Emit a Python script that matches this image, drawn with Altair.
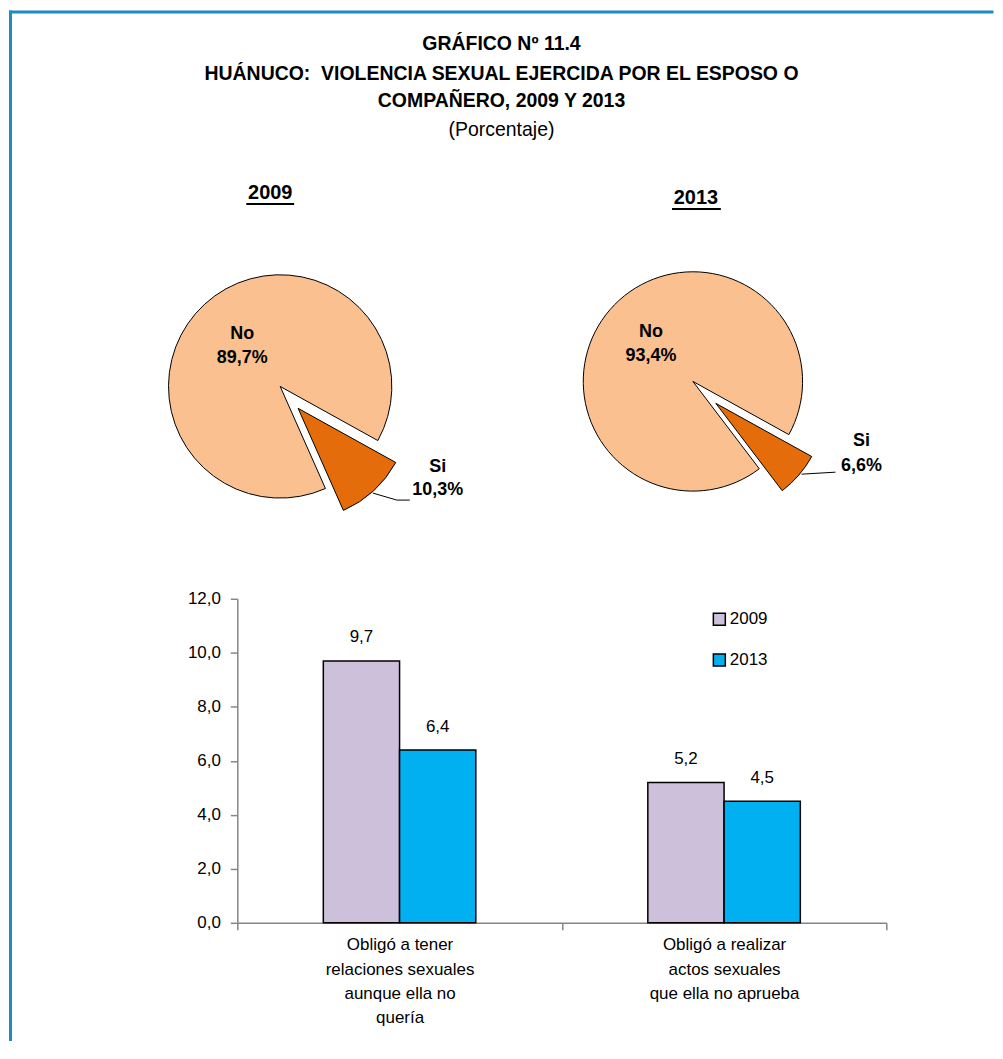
import math
import pandas as pd
import altair as alt

# ---------------- data ----------------
title_lines = ["GRÁFICO Nº 11.4",
               "HUÁNUCO:\u00a0 VIOLENCIA SEXUAL EJERCIDA POR EL ESPOSO O",
               "COMPAÑERO, 2009 Y 2013",
               "(Porcentaje)"]
years = ["2009", "2013"]
pie_labels = ["Si", "No"]
pie_2009 = [10.3, 89.7]
pie_2013 = [6.6, 93.4]
categories = ["Obligó a tener|relaciones sexuales|aunque ella no|quería",
              "Obligó a realizar|actos sexuales|que ella no aprueba"]
values_2009 = [9.7, 5.2]
values_2013 = [6.4, 4.5]
y_ticks = [0, 2, 4, 6, 8, 10, 12]

# ---------------- styles ----------------
SANS = "Liberation Sans"
BORDER = "#1b8cc4"
AXIS_GRAY = "#868686"
pie_colors = ["#E46C0A", "#FAC090"]
bar_colors = ["#CCC0DA", "#00B0F0"]

one = pd.DataFrame({"k": [0]})


def text_at(s, x, y, size, bold=False, font=SANS):
    return alt.Chart(one).mark_text(
        font=font, fontSize=size, fontWeight="bold" if bold else "normal",
        color="black", align="center", baseline="middle"
    ).encode(x=alt.value(x), y=alt.value(y), text=alt.value(s))


def rule_at(x, x2, y, y2, color="black", w=1.0, cap="butt"):
    return alt.Chart(one).mark_rule(color=color, strokeWidth=w, strokeCap=cap).encode(
        x=alt.value(x), x2=alt.value(x2), y=alt.value(y), y2=alt.value(y2))


# ---------------- border + title ----------------
layers = []
layers.append(rule_at(-227.5, -227.5, -588.5, 442, BORDER, 3, "square"))
layers.append(rule_at(-227.5, 757, -588.5, -588.5, BORDER, 3, "square"))

title_y = [-556, -526, -499, -470]
for i, (line, ty) in enumerate(zip(title_lines, title_y)):
    layers.append(text_at(line, 265, ty, 19.5, bold=(i < 3)))

# ---------------- pies ----------------
theta_scale = alt.Scale(domain=[0, 100], range=[math.radians(119), math.radians(479)])
fill_scale = alt.Scale(domain=pie_labels, range=pie_colors)


def pie(values, cx, cy, dx, dy, r, no_lbl, si_lbl, si_lh):
    df = pd.DataFrame({"label": pie_labels, "value": values, "ord": list(range(len(values)))})
    base = alt.Chart(df).encode(
        theta=alt.Theta("value:Q", stack=True, scale=theta_scale),
        order=alt.Order("ord:Q"),
        fill=alt.Fill("label:N", scale=fill_scale, legend=None),
    )
    no_part = base.mark_arc(radius=r, stroke="black", strokeWidth=1).encode(
        x=alt.value(cx), y=alt.value(cy),
        opacity=alt.condition(alt.datum.label == "No", alt.value(1), alt.value(0)))
    si_part = base.mark_arc(radius=r, stroke="black", strokeWidth=1).encode(
        x=alt.value(cx + dx), y=alt.value(cy + dy),
        opacity=alt.condition(alt.datum.label == "Si", alt.value(1), alt.value(0)))
    lbl = alt.Chart(df).transform_calculate(
        txt="datum.label + '\\n' + replace(format(datum.value, '.1f'), '.', ',') + '%'"
    )
    no_text = lbl.transform_filter(alt.datum.label == "No").mark_text(
        font=SANS, fontSize=18, fontWeight="bold", lineBreak="\n", lineHeight=25,
        align="center", baseline="middle", color="black"
    ).encode(x=alt.value(no_lbl[0]), y=alt.value(no_lbl[1]), text="txt:N")
    si_text = lbl.transform_filter(alt.datum.label == "Si").mark_text(
        font=SANS, fontSize=18, fontWeight="bold", lineBreak="\n", lineHeight=si_lh,
        align="center", baseline="middle", color="black"
    ).encode(x=alt.value(si_lbl[0]), y=alt.value(si_lbl[1]), text="txt:N")
    return [no_part, si_part, no_text, si_text]


layers += pie(pie_2009, 43, -213, 18, 22, 112, (5, -266), (201, -132), 23)
layers += pie(pie_2013, 457, -218, 23, 22, 110, (415, -268), (626, -158), 25)

# leader lines
layers.append(rule_at(136, 160, -106, -99))
layers.append(rule_at(160, 173, -99, -99))
layers.append(rule_at(566, 600, -125, -127))

# headings
layers.append(text_at(years[0], 33, -407, 20, bold=True))
layers.append(rule_at(9, 57, -396, -396, "black", 2))
layers.append(text_at(years[1], 460, -402, 20, bold=True))
layers.append(rule_at(436, 485, -391, -391, "black", 2))

# ---------------- bars ----------------
rows = []
for c, v in zip(categories, values_2009):
    rows.append({"cat": c, "year": years[0], "value": v})
for c, v in zip(categories, values_2013):
    rows.append({"cat": c, "year": years[1], "value": v})
bar_df = pd.DataFrame(rows)

# spacer slots on each side of the pair of bars inside each category band
offset_domain = ["_l"] + years + ["_r"]

bar_base = alt.Chart(bar_df).encode(
    x=alt.X("cat:N", sort=categories, title=None,
            scale=alt.Scale(paddingInner=0, paddingOuter=0),
            axis=alt.Axis(labelExpr="split(datum.label, '|')", labelAngle=0, labelLimit=0,
                          tickBand="extent", tickSize=7, tickColor=AXIS_GRAY, tickWidth=1.5,
                          domainColor=AXIS_GRAY, domainWidth=1.5,
                          labelFont=SANS, labelFontSize=17, labelColor="black",
                          labelLineHeight=24.5, labelPadding=7, labelBaseline="top")),
    xOffset=alt.XOffset("year:N",
                        scale=alt.Scale(domain=offset_domain, paddingInner=0, paddingOuter=0.128)),
    y=alt.Y("value:Q", title=None,
            scale=alt.Scale(domain=[0, 12], nice=False),
            axis=alt.Axis(values=y_ticks, grid=False,
                          labelExpr="replace(format(datum.value, '.1f'), '.', ',')",
                          tickSize=7, tickColor=AXIS_GRAY, tickWidth=1.5,
                          domainColor=AXIS_GRAY, domainWidth=1.5,
                          labelFont=SANS, labelFontSize=17, labelColor="black",
                          labelPadding=10)),
)

bars = bar_base.mark_bar(stroke="black", strokeWidth=1.5).encode(
    color=alt.Color("year:N", sort=years,
                    scale=alt.Scale(domain=years, range=bar_colors),
                    legend=alt.Legend(title=None, orient="none", legendX=475, legendY=12,
                                      direction="vertical", symbolType="square",
                                      symbolSize=144, symbolStrokeColor="black",
                                      symbolStrokeWidth=1.5, labelFont=SANS,
                                      labelFontSize=17, labelColor="black",
                                      labelOffset=2, rowPadding=22, padding=0)))

bar_text = bar_base.transform_calculate(
    lbl="replace(format(datum.value, '.1f'), '.', ',')"
).mark_text(font=SANS, fontSize=17, color="black", baseline="alphabetic", dy=-18.5).encode(
    text="lbl:N")

layers += [bars, bar_text]

chart = alt.layer(*layers).properties(
    width=651, height=325, padding=0, background="white"
).configure_view(stroke=None)

chart.save("out.html", embed_options={"renderer": "svg", "actions": False})
